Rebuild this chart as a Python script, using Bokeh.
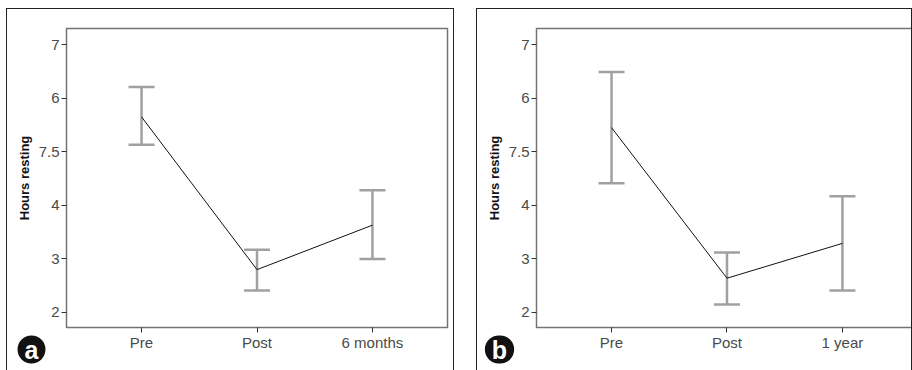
from bokeh.plotting import figure
from bokeh.layouts import row
from bokeh.models import (ColumnDataSource, Range1d, FixedTicker, Whisker, TeeHead,
                          Label, InlineStyleSheet)
from bokeh.embed import file_html
from bokeh.resources import INLINE

# ---------------- data ----------------
x_pos = [1, 2, 3]
cats_a = ["Pre", "Post", "6 months"]
mean_a = [5.65, 2.80, 3.63]
upper_a = [6.21, 3.17, 4.28]
lower_a = [5.13, 2.41, 3.00]

cats_b = ["Pre", "Post", "1 year"]
mean_b = [5.45, 2.64, 3.29]
upper_b = [6.49, 3.12, 4.17]
lower_b = [4.41, 2.15, 2.41]

y_tick_values = [2, 3, 4, 5, 6, 7]
y_tick_labels = ["2", "3", "4", "7.5", "6", "7"]
y_label = "Hours resting"

FONT = "'Liberation Sans', Arial, sans-serif"
ERR_COLOR = "#a0a0a0"
FRAME_COLOR = "#737373"
TICK_TEXT = "#4a4a4a"


def make_badge(letter, x):
    return Label(text=letter, x=x, y=32, x_units="screen", y_units="screen",
                 text_color="white", text_font=FONT, text_font_style="bold",
                 text_font_size="25px", text_align="center", text_baseline="middle",
                 background_fill_color="#111111", border_radius=14,
                 padding=dict(left=7, right=7, top=0, bottom=0))


def make_panel(cats, mean, upper, lower, letter, badge_x, width, border_left, border_right, x_end):
    p = figure(width=width, height=372, output_backend="svg", toolbar_location=None,
               x_range=Range1d(0.35, x_end), y_range=Range1d(1.72, 7.3),
               min_border_left=border_left, min_border_right=border_right,
               min_border_top=19, min_border_bottom=43,
               background_fill_color="white", border_fill_color="white")
    p.stylesheets = [InlineStyleSheet(css=":host { border-top: 1px solid #222; border-left: 1px solid #222; border-right: 1px solid #222; }")]
    p.grid.visible = False
    p.outline_line_color = FRAME_COLOR
    p.outline_line_width = 1.5

    src = ColumnDataSource(dict(x=x_pos, mean=mean, upper=upper, lower=lower))

    w = Whisker(base="x", upper="upper", lower="lower", source=src, dimension="height",
                line_color=ERR_COLOR, line_width=2.5,
                upper_head=TeeHead(size=26, line_color=ERR_COLOR, line_width=2.5),
                lower_head=TeeHead(size=26, line_color=ERR_COLOR, line_width=2.5))
    p.add_layout(w)
    p.line("x", "mean", source=src, line_color="#111111", line_width=1)

    ya = p.yaxis[0]
    ya.ticker = FixedTicker(ticks=y_tick_values)
    ya.major_label_overrides = {v: l for v, l in zip(y_tick_values, y_tick_labels)}
    ya.axis_line_color = None
    ya.minor_tick_line_color = None
    ya.major_tick_line_color = "#333333"
    ya.major_tick_out = 5
    ya.major_tick_in = 0
    ya.major_label_text_font = FONT
    ya.major_label_text_font_size = "15px"
    ya.major_label_text_color = TICK_TEXT
    ya.major_label_standoff = 2
    ya.axis_label = y_label
    ya.axis_label_text_font = FONT
    ya.axis_label_text_font_style = "bold"
    ya.axis_label_text_font_size = "13px"
    ya.axis_label_text_color = "#111111"
    ya.axis_label_standoff = 4

    xa = p.xaxis[0]
    xa.ticker = FixedTicker(ticks=x_pos)
    xa.major_label_overrides = {v: l for v, l in zip(x_pos, cats)}
    xa.axis_line_color = None
    xa.minor_tick_line_color = None
    xa.major_tick_line_color = "#333333"
    xa.major_tick_out = 5
    xa.major_tick_in = 0
    xa.major_label_text_font = FONT
    xa.major_label_text_font_size = "15px"
    xa.major_label_text_color = TICK_TEXT
    xa.major_label_standoff = 1

    # panel letter in a side panel below the x axis (side panels are not clipped to the frame)
    p.add_layout(make_badge(letter, badge_x), "below")
    return p


pa = make_panel(cats_a, mean_a, upper_a, lower_a, "a", -35, 448, 59, 8, 3.65)
pb = make_panel(cats_b, mean_b, upper_b, lower_b, "b", -37, 436, 59, 0, 0.35 + 377 / 115.45)

layout = row(pa, pb, spacing=22, margin=(8, 0, 0, 6))
open("out.html", "w").write(file_html(layout, INLINE))
